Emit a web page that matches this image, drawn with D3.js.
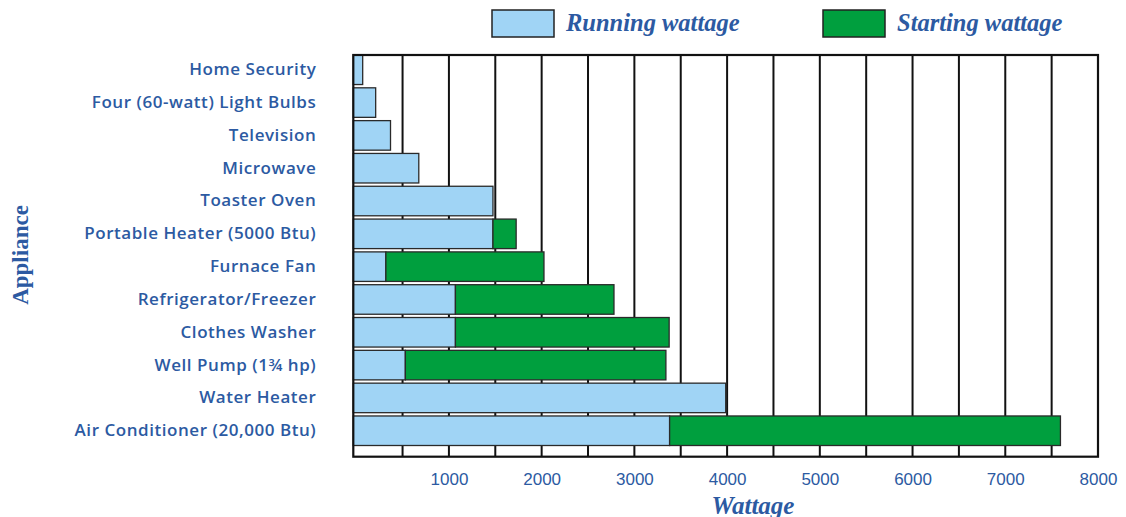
<!DOCTYPE html>
<html>
<head>
<meta charset="utf-8">
<script src="https://cdn.jsdelivr.net/npm/d3@7"></script>
<style>
  body { margin: 0; background: #fff; }
  svg { display: block; }
</style>
</head>
<body>
<div id="chart"></div>
<script>
// appliance names, top to bottom
const appliances = [
    "Home Security",
    "Four (60-watt) Light Bulbs",
    "Television",
    "Microwave",
    "Toaster Oven",
    "Portable Heater (5000 Btu)",
    "Furnace Fan",
    "Refrigerator/Freezer",
    "Clothes Washer",
    "Well Pump (1\u00BE hp)",
    "Water Heater",
    "Air Conditioner (20,000 Btu)"
];
// running wattage
const running = [70, 210, 370, 675, 1475, 1475, 320, 1070, 1070, 530, 3985, 3380];
// starting wattage (0 = no separate starting value shown)
const starting = [0, 0, 0, 0, 0, 1725, 2025, 2780, 3375, 3340, 0, 7595];
const tickValues = [1000, 2000, 3000, 4000, 5000, 6000, 7000, 8000];
const gridValues = [500, 1000, 1500, 2000, 2500, 3000, 3500, 4000, 4500, 5000, 5500, 6000, 6500, 7000, 7500];
const seriesNames = ["Running wattage", "Starting wattage"];

const width = 1126;
const height = 517;
const blue = "#2c5aa2";
const runColor = "#a0d4f5";
const startColor = "#009f3e";

const svg = d3.select("#chart").append("svg")
    .attr("width", width)
    .attr("height", height);

const x = d3.scaleLinear()
    .domain([0, 8000])
    .range([356.2, 1098]);

const y = d3.scaleBand()
    .domain(appliances)
    .range([55, 445.5])
    .paddingInner(0.1)
    .paddingOuter(0);

const plotTop = 55;
const plotBottom = 456.7;
const plotLeft = 353.3;
const plotRight = x(8000);

// vertical grid lines
svg.append("g")
    .selectAll("line")
    .data(gridValues)
    .enter()
    .append("line")
    .attr("x1", d => x(d))
    .attr("x2", d => x(d))
    .attr("y1", plotTop)
    .attr("y2", plotBottom)
    .attr("stroke", "#111")
    .attr("stroke-width", 2);

const rows = appliances.map((name, i) => ({ name, run: running[i], start: starting[i] }));

// running bars
svg.append("g")
    .selectAll("rect")
    .data(rows)
    .enter()
    .append("rect")
    .attr("x", plotLeft)
    .attr("y", d => y(d.name))
    .attr("width", d => x(d.run) - plotLeft)
    .attr("height", y.bandwidth())
    .attr("fill", runColor)
    .attr("stroke", "#2a2a2a")
    .attr("stroke-width", 1.3);

// starting bars
svg.append("g")
    .selectAll("rect")
    .data(rows.filter(d => d.start > 0))
    .enter()
    .append("rect")
    .attr("x", d => x(d.run))
    .attr("y", d => y(d.name))
    .attr("width", d => x(d.start) - x(d.run))
    .attr("height", y.bandwidth())
    .attr("fill", startColor)
    .attr("stroke", "#2a2a2a")
    .attr("stroke-width", 1.3);

// frame
svg.append("rect")
    .attr("x", plotLeft)
    .attr("y", plotTop)
    .attr("width", plotRight - plotLeft)
    .attr("height", plotBottom - plotTop)
    .attr("fill", "none")
    .attr("stroke", "#111")
    .attr("stroke-width", 2.2);

// x axis labels
const xAxis = svg.append("g")
    .attr("transform", `translate(0,${plotBottom})`)
    .call(d3.axisBottom(x).tickValues(tickValues).tickSize(0).tickPadding(16).tickFormat(d3.format("d")));
xAxis.select(".domain").remove();
xAxis.selectAll("text")
    .attr("fill", blue)
    .style("font-family", "'Liberation Sans', Arial, sans-serif")
    .style("font-size", "17px");

// y axis labels
const yAxis = svg.append("g")
    .attr("transform", `translate(${plotLeft},0)`)
    .call(d3.axisLeft(y).tickSize(0).tickPadding(37));
yAxis.select(".domain").remove();
yAxis.selectAll("text")
    .attr("fill", blue)
    .style("font-family", "'Open Sans', sans-serif")
    .style("font-weight", "600")
    .style("font-size", "17px")
    .style("letter-spacing", "0.55px");

// axis titles
svg.append("text")
    .attr("x", 753)
    .attr("y", 514)
    .attr("text-anchor", "middle")
    .attr("fill", blue)
    .style("font-family", "'Liberation Serif', 'Times New Roman', serif")
    .style("font-weight", "bold")
    .style("font-style", "italic")
    .style("font-size", "25px")
    .text("Wattage");

svg.append("text")
    .attr("transform", "translate(28,255) rotate(-90)")
    .attr("text-anchor", "middle")
    .attr("fill", blue)
    .style("font-family", "'Liberation Serif', 'Times New Roman', serif")
    .style("font-weight", "bold")
    .style("font-size", "23px")
    .text("Appliance");

// legend
const legendX = [492, 823];
const legend = svg.append("g")
    .selectAll("g")
    .data(seriesNames)
    .enter()
    .append("g")
    .attr("transform", (d, i) => `translate(${legendX[i]},10)`);

legend.append("rect")
    .attr("width", 62)
    .attr("height", 27)
    .attr("fill", (d, i) => i === 0 ? runColor : startColor)
    .attr("stroke", "#222")
    .attr("stroke-width", 1.5);

legend.append("text")
    .attr("x", 74)
    .attr("y", 21)
    .attr("fill", blue)
    .style("font-family", "'Liberation Serif', 'Times New Roman', serif")
    .style("font-weight", "bold")
    .style("font-style", "italic")
    .style("font-size", "24.5px")
    .text(d => d);
</script>
</body>
</html>
